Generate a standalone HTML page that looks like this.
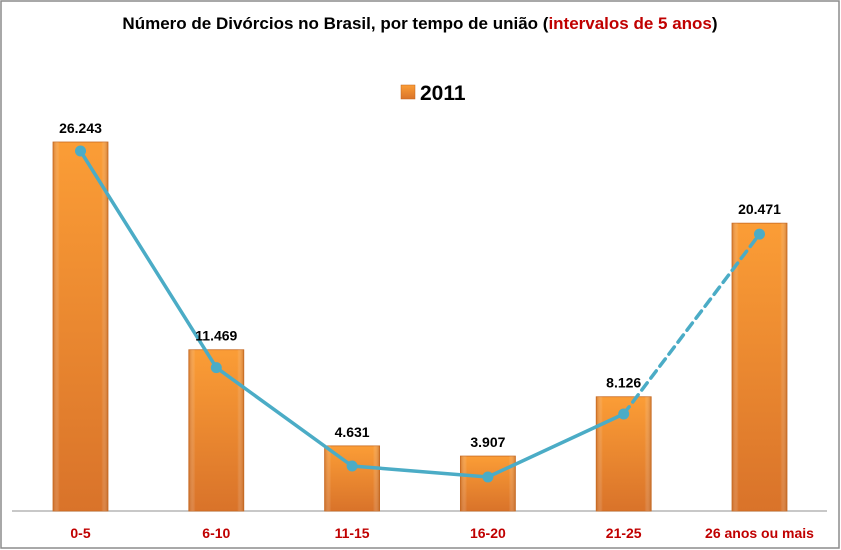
<!DOCTYPE html>
<html><head><meta charset="utf-8"><style>
html,body{margin:0;padding:0;background:#fff}
svg{display:block}
text{font-family:"Liberation Sans",sans-serif;font-weight:bold}
</style></head><body>
<svg id="chart" width="841" height="550" viewBox="0 0 841 550">
<defs>
<linearGradient id="barGrad" x1="0" y1="0" x2="0" y2="1">
<stop offset="0" stop-color="#fb9d36"/><stop offset="1" stop-color="#d9732a"/>
</linearGradient>
<linearGradient id="edgeGrad" x1="0" y1="0" x2="1" y2="0">
<stop offset="0" stop-color="#c0621c" stop-opacity="0.6"/><stop offset="0.12" stop-color="#fff" stop-opacity="0"/>
<stop offset="0.88" stop-color="#fff" stop-opacity="0"/><stop offset="1" stop-color="#b8601c" stop-opacity="0.6"/>
</linearGradient>
</defs>
<rect x="1" y="1" width="838" height="547" fill="#fff" stroke="#8c8c8c" stroke-width="1.5"/>
<text x="420" y="29" text-anchor="middle" font-size="17" fill="#000">Número de Divórcios no Brasil, por tempo de união (<tspan fill="#c00000">intervalos de 5 anos</tspan>)</text>
<g>
<rect x="401" y="85" width="14" height="14" fill="url(#barGrad)" stroke="#c0621c" stroke-width="0.5"/>
<text x="420" y="100" font-size="21" fill="#000">2011</text>
</g>
<line x1="12" y1="511" x2="827" y2="511" stroke="#a6a6a6" stroke-width="1.2"/>
<g id="bars"></g>
<g id="line"></g>
<g id="labels"></g>
</svg>
<script>
const categories = ["0-5","6-10","11-15","16-20","21-25","26 anos ou mais"];
const barValues = [26243,11469,4631,3907,8126,20471];
const valueLabels = ["26.243","11.469","4.631","3.907","8.126","20.471"];
const lineValues = [25600,10200,3200,2420,6900,19690];

const NS="http://www.w3.org/2000/svg";
const baseY=511, plotTop=142, maxV=26243;
const x0=80.5, step=135.8, barW=55;
function xPos(i){return x0+i*step;}
function yPos(v){return baseY-(v/maxV)*(baseY-plotTop);}
function mk(tag,attrs,parent){const e=document.createElementNS(NS,tag);for(const k in attrs)e.setAttribute(k,attrs[k]);parent.appendChild(e);return e;}

const gb=document.getElementById('bars'), gl=document.getElementById('line'), gt=document.getElementById('labels');
barValues.forEach((v,i)=>{
  const y=yPos(v);
  const r=mk('rect',{x:xPos(i)-barW/2,y:y,width:barW,height:baseY-y,fill:'url(#barGrad)',stroke:'#c86a22','stroke-width':0.8},gb);
  
  
  const ov=mk('rect',{x:xPos(i)-barW/2,y:y,width:barW,height:baseY-y,fill:'url(#edgeGrad)'},gb);
  
  
  const t=mk('text',{x:xPos(i),y:y-9,'text-anchor':'middle','font-size':14,fill:'#000'},gt);
  t.textContent=valueLabels[i];
  
  
  const c=mk('text',{x:xPos(i),y:538,'text-anchor':'middle','font-size':14,fill:'#c00000'},gt);
  c.textContent=categories[i];
  
  
});
for(let i=0;i<lineValues.length-1;i++){
  const s=mk('line',{x1:xPos(i),y1:yPos(lineValues[i]),x2:xPos(i+1),y2:yPos(lineValues[i+1]),stroke:'#4bacc6','stroke-width':3.5,'stroke-linecap':'round'},gl);
  if(i===lineValues.length-2)s.setAttribute('stroke-dasharray','9 6');
  
  
}
lineValues.forEach((v,i)=>{
  const c=mk('circle',{cx:xPos(i),cy:yPos(v),r:5.5,fill:'#4bacc6'},gl);
  
  
});
</script>
</body></html>
